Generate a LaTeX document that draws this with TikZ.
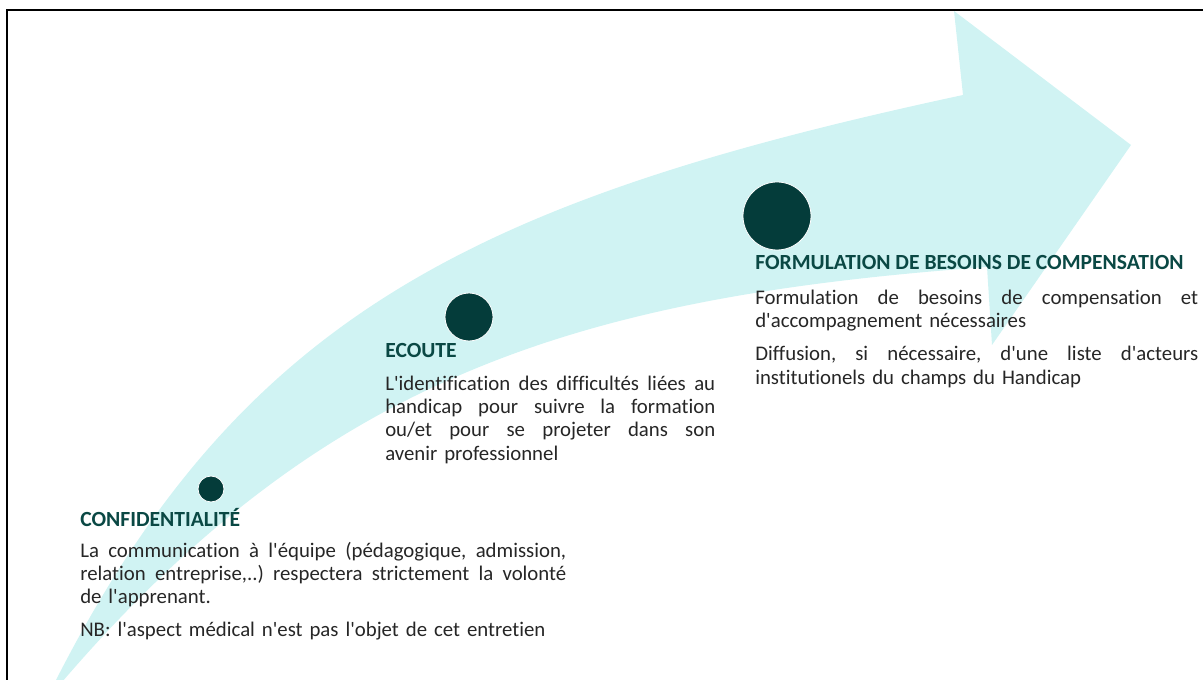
\documentclass[tikz,border=0pt]{standalone}
\usepackage{fontspec}
\setmainfont{Carlito}[Ligatures=NoCommon]
\definecolor{arrowcyan}{RGB}{208,243,243}
\definecolor{dotteal}{RGB}{4,60,58}
\definecolor{headteal}{RGB}{10,72,68}
\definecolor{bodygray}{RGB}{38,38,38}
\setlength{\parindent}{0pt}
\frenchspacing
\newcommand{\ap}{\textquotesingle}
\newcommand{\fullline}[2]{\makebox[#1][s]{\spaceskip=0pt\xspaceskip=0pt #2}}
\tikzset{
  stepdot/.style={circle, fill=dotteal, draw=white, line width=0.6pt, inner sep=0pt},
  headtxt/.style={text=headteal, font=\fontsize{16.2}{17.5}\selectfont\bfseries, inner sep=0pt, anchor=base west},
  bodytxt/.style={text=bodygray, font=\fontsize{15.6}{17.5}\selectfont, inner sep=0pt, align=left, anchor=north west},
}
\begin{document}
\begin{tikzpicture}[x=0.75pt,y=0.75pt,yscale=-1,xscale=1]
\useasboundingbox (0,0) rectangle (1203,680);

\begin{scope}
\clip (0,0) rectangle (1203,680);
%Shape: Curved Arrow
\fill [arrowcyan] (55,682) .. controls (241,316) and (474,200) .. (963,95) -- (954,11) -- (1131,145) -- (992,345) -- (987,267) .. controls (576,297) and (324,377) .. (62,682) -- cycle ;
%Shape: Frame
\draw [line width=1.6pt] (7,700) -- (7,10) -- (1220,10) ;
\end{scope}

%Shape: Circle
\node [stepdot, minimum size=19.5pt] (dotconf) at (211,489) {};
%Shape: Circle
\node [stepdot, minimum size=36pt] (dotecoute) at (469,317) {};
%Shape: Circle
\node [stepdot, minimum size=51pt] (dotform) at (777,216) {};

% Text Node
\node [headtxt] (titleconf) at (80,527) {CONFIDENTIALITÉ};
% Text Node
\node [bodytxt, text width=364.5pt] (bodyconf) at (80,540.7) {\strut\fullline{364.5pt}{La communication à l\ap équipe (pédagogique, admission,}\\\fullline{364.5pt}{relation entreprise,..) respectera strictement la volonté}\\de l\ap apprenant.\\[7pt]NB: l\ap aspect médical n\ap est pas l\ap objet de cet entretien};

% Text Node
\node [headtxt] (titleecoute) at (385,358) {ECOUTE};
% Text Node
\node [bodytxt, text width=247.5pt] (bodyecoute) at (385,373.7) {\strut\fullline{247.5pt}{L\ap identification des difficultés liées au}\\\fullline{247.5pt}{handicap pour suivre la formation}\\\fullline{247.5pt}{ou/et pour se projeter dans son}\\avenir professionnel};

% Text Node
\node [headtxt] (titleform) at (755,270) {FORMULATION DE BESOINS DE COMPENSATION};
% Text Node
\node [bodytxt, text width=332.25pt] (bodyform) at (755,287.7) {\strut\fullline{332.25pt}{Formulation de besoins de compensation et}\\d\ap accompagnement nécessaires\\[7.5pt]\fullline{332.25pt}{Diffusion, si nécessaire, d\ap une liste d\ap acteurs}\\institutionels du champs du Handicap};

\end{tikzpicture}
\end{document}
